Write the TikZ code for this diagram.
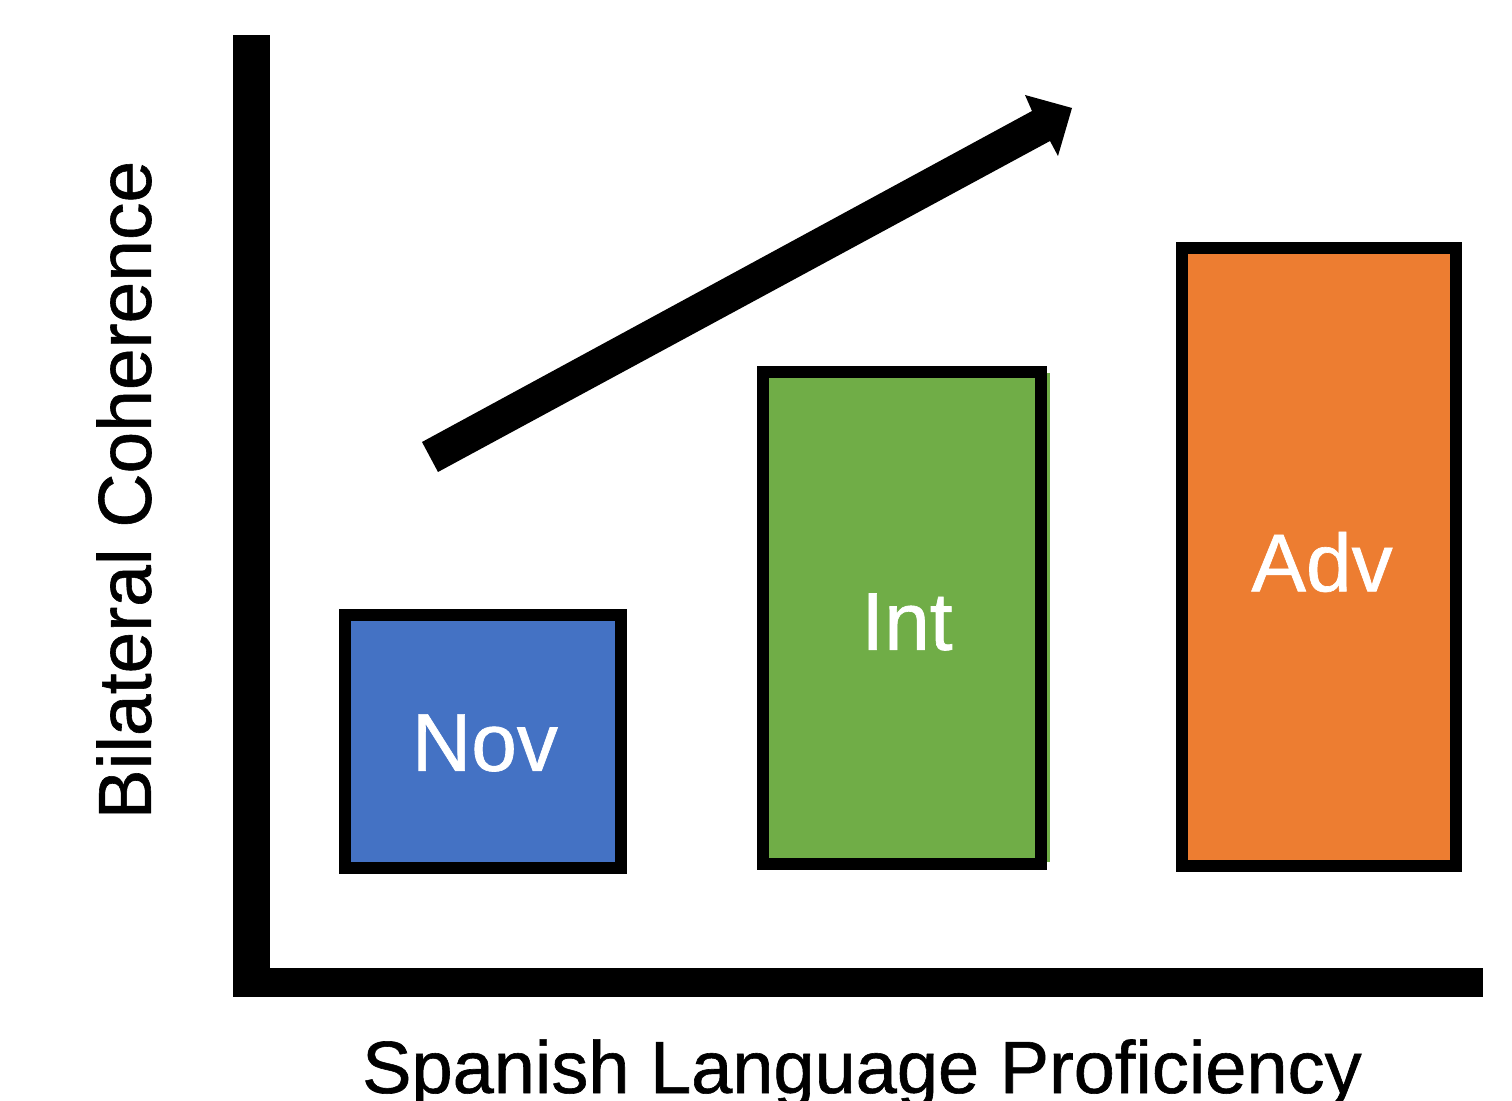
\documentclass[tikz,border=0pt]{standalone}
\usepackage{fontspec}
\setmainfont[FakeBold=0.8,AutoFakeBold=0.8]{Liberation Sans}
\definecolor{novblue}{HTML}{4472C4}
\definecolor{intgreen}{HTML}{70AD47}
\definecolor{advorange}{HTML}{ED7D31}
\begin{document}
\begin{tikzpicture}[x=0.5pt,y=-0.5pt,
  barbox/.style={rectangle,draw=black,line width=6pt,inner sep=0pt,outer sep=0pt},
  barlabel/.style={text=white,font=\fontsize{41}{48}\selectfont,inner sep=0pt,anchor=center},
  axislabel/.style={text=black,font=\fontsize{37}{44}\selectfont,inner sep=0pt,anchor=center}]
\useasboundingbox (0,0) rectangle (1512,1101);
% axes
\fill[black] (233,35) rectangle (270,997);
\fill[black] (233,968) rectangle (1483,997);
% bars
\fill[intgreen] (769,373) rectangle (1050,862);
\node[barbox,fill=novblue,minimum width=138pt,minimum height=126.5pt] (nov) at (483,741.5) {};
\node[barbox,fill=intgreen,minimum width=139pt,minimum height=246pt] (int) at (902,618) {};
\node[barbox,fill=advorange,minimum width=137pt,minimum height=309pt] (adv) at (1319,557) {};
\node[barlabel] (novl) at (485,743) {Nov};
\node[barlabel] (intl) at (907,622) {Int};
\node[barlabel] (advl) at (1322,562) {Adv};
% arrow
\coordinate (t1) at (422,442);
\coordinate (s1) at (1032,111);
\coordinate (b1) at (1025,95);
\coordinate (tip) at (1072,108);
\coordinate (b2) at (1058,156);
\coordinate (s2) at (1050,141);
\coordinate (t2) at (438,472);
\fill[black] (t1) -- (s1) -- (b1) -- (tip) -- (b2) -- (s2) -- (t2) -- cycle;
% axis labels
\node[axislabel,font=\fontsize{37.5}{44}\selectfont,rotate=90] (ylab) at (124,490) {Bilateral Coherence};
\node[axislabel,anchor=base] (xlab) at (862,1093) {Spanish Language Proficiency};
\end{tikzpicture}
\end{document}
